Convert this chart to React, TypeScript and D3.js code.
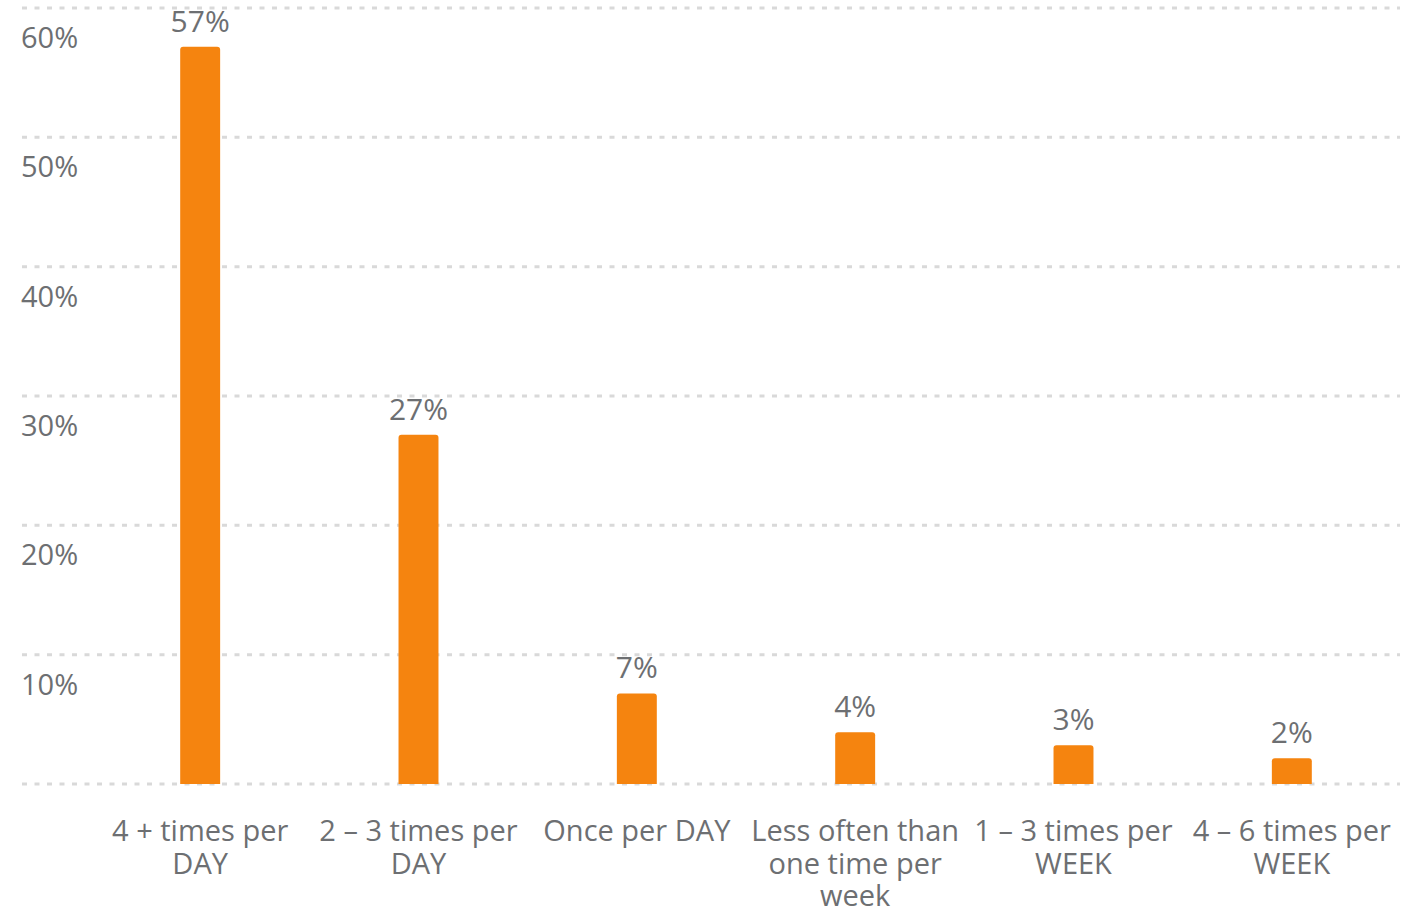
import React from "react";
import * as d3 from "d3";

// Share of respondents by frequency
const categories = [
  "4 + times per\nDAY",
  "2 – 3 times per\nDAY",
  "Once per DAY",
  "Less often than\none time per\nweek",
  "1 – 3 times per\nWEEK",
  "4 – 6 times per\nWEEK",
];
const values = [57, 27, 7, 4, 3, 2];
const yTicks = [0, 10, 20, 30, 40, 50, 60];

const W = 1422;
const H = 912;
const FONT = "'Open Sans', sans-serif";
const TEXT = "#6d6f72";
const BAR = "#f5840f";
const GRID = "#d9d9d9";

export default function App() {
  const x = d3
    .scaleBand<string>()
    .domain(categories)
    .range([91, 1401])
    .paddingInner(0.817)
    .paddingOuter(0.4085);
  const y = d3.scaleLinear().domain([0, 60]).range([784, 8]);
  const bw = x.bandwidth();
  const r = 3;

  const barPath = (c: string, v: number) => {
    const x0 = x(c)!;
    const x1 = x0 + bw;
    const y0 = y(0);
    const y1 = y(v);
    return `M${x0},${y0}V${y1 + r}Q${x0},${y1} ${x0 + r},${y1}H${x1 - r}Q${x1},${y1} ${x1},${y1 + r}V${y0}Z`;
  };

  return (
    <svg
      width={W}
      height={H}
      style={{ position: "absolute", left: 0, top: 0, background: "#fff" }}
      fontFamily={FONT}
    >
      {yTicks.map((t) => (
        <g key={t}>
          <line
            x1={22}
            x2={1400}
            y1={y(t)}
            y2={y(t)}
            stroke={GRID}
            strokeWidth={3}
            strokeDasharray="5 7.5"
          />
          {t > 0 && (
            <text x={21} y={y(t) + 40} fontSize={29} fill={TEXT}>
              {`${t}%`}
            </text>
          )}
        </g>
      ))}
      {categories.map((c, i) => (
        <g key={c}>
          <path d={barPath(c, values[i])} fill={BAR} />
          <text
            x={x(c)! + bw / 2}
            y={y(values[i]) - 15}
            textAnchor="middle"
            fontSize={30}
            fill={TEXT}
          >
            {`${values[i]}%`}
          </text>
          <text textAnchor="middle" fontSize={29} fill={TEXT}>
            {c.split("\n").map((line, j) => (
              <tspan key={j} x={x(c)! + bw / 2} y={841 + j * 32.5}>
                {line}
              </tspan>
            ))}
          </text>
        </g>
      ))}
    </svg>
  );
}
